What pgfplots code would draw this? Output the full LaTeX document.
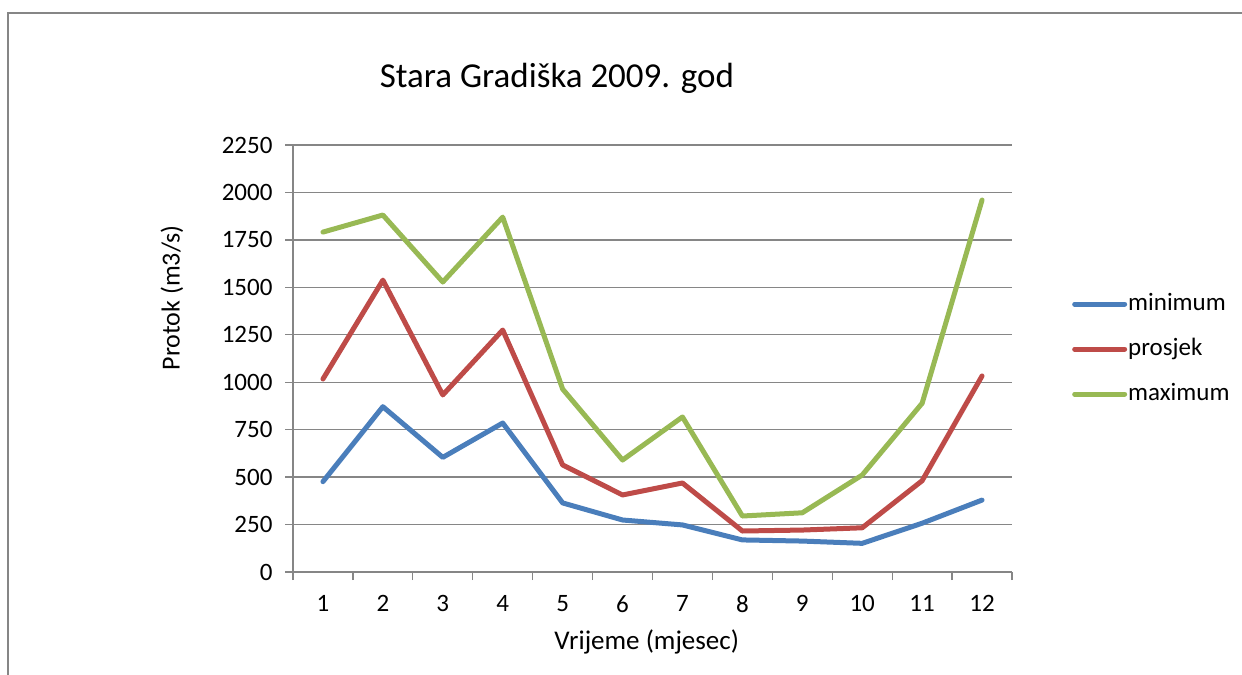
\documentclass[border=0pt]{standalone}
\usepackage{fontspec}
\setmainfont{Carlito}
\usepackage{pgfplots}
\pgfplotsset{compat=1.18}

\definecolor{serMin}{RGB}{74,126,187}
\definecolor{serAvg}{RGB}{190,75,72}
\definecolor{serMax}{RGB}{152,185,84}
\definecolor{axgray}{RGB}{134,134,134}

\begin{document}
\begin{tikzpicture}
  \path[use as bounding box] (0,0) rectangle (1242bp,675bp);
  % chart area frame (only left and top edge visible)
  \draw[axgray, line width=1.4bp] (8bp,0) -- (8bp,662bp) -- (1242bp,662bp);

  \begin{axis}[
      at={(293bp,103bp)}, anchor=south west,
      scale only axis,
      width=719bp, height=427bp,
      xmin=0.5, xmax=12.5,
      ymin=0, ymax=2250,
      axis x line*=bottom, axis y line*=left,
      axis line style={axgray, line width=1.3bp},
      xtick={0.5,1.5,...,12.5},
      x tick label as interval,
      xticklabels={1,2,3,4,5,6,7,8,9,10,11,12},
      ytick={0,250,...,2250},
      tick align=outside,
      major tick length=8bp,
      tick style={axgray, line width=1.3bp},
      ymajorgrids,
      grid style={axgray, line width=1.3bp},
      /pgf/number format/1000 sep={},
      /pgf/number format/assume math mode=true,
      ticklabel style={font=\fontsize{25bp}{29bp}\selectfont, text=black},
      yticklabel style={xshift=-9bp},
      xticklabel style={yshift=-12bp},
      title={Stara Gradiška 2009. god},
      title style={font=\fontsize{35bp}{41bp}\selectfont, at={(rel axis cs:0.367,1)}, anchor=base, yshift=52bp},
      xlabel={Vrijeme (mjesec)},
      xlabel style={font=\fontsize{27bp}{31bp}\selectfont, at={(rel axis cs:0.492,0)}, anchor=center, yshift=-70bp},
      ylabel={Protok (m3/s)},
      ylabel style={font=\fontsize{26bp}{30bp}\selectfont, at={(rel axis cs:-0.1683,0.642)}, anchor=center},
      legend style={draw=none, fill=none, at={(rel axis cs:1.0834,0.522)}, anchor=west,
        font=\fontsize{25bp}{29bp}\selectfont, inner sep=0pt, row sep=19bp,
        nodes={inner sep=1bp, text height=18bp, text depth=6bp}},
      legend cell align=left,
      legend image code/.code={\draw[#1, line width=5bp] (0bp,0bp) -- (50bp,0bp);},
      every axis plot/.append style={line width=5bp, line join=round, line cap=round, mark=none},
      clip=false,
    ]
    \addplot[serMin] coordinates {
      (1,476) (2,871) (3,604) (4,785) (5,364) (6,274)
      (7,248) (8,169) (9,163) (10,151) (11,257) (12,379)
    };
    \addlegendentry{minimum}
    \addplot[serAvg] coordinates {
      (1,1017) (2,1538) (3,933) (4,1275) (5,564) (6,406)
      (7,469) (8,216) (9,221) (10,233) (11,481) (12,1033)
    };
    \addlegendentry{prosjek}
    \addplot[serMax] coordinates {
      (1,1791) (2,1881) (3,1528) (4,1870) (5,964) (6,590)
      (7,817) (8,295) (9,312) (10,511) (11,889) (12,1960)
    };
    \addlegendentry{maximum}
  \end{axis}
\end{tikzpicture}
\end{document}
